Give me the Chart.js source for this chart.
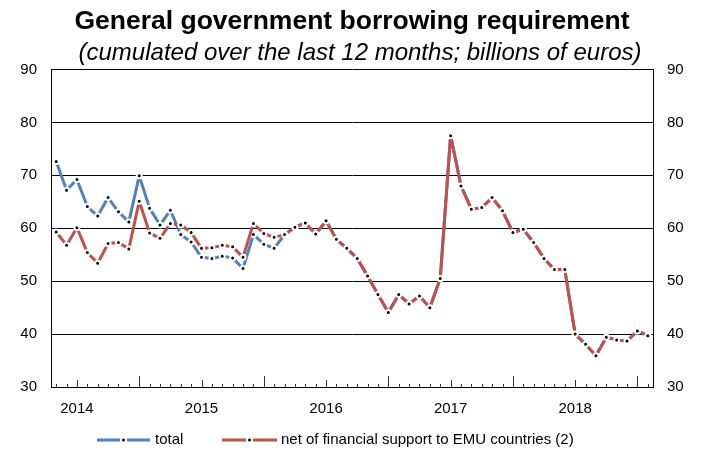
<!DOCTYPE html>
<html>
<head>
<meta charset="utf-8">
<script src="https://cdn.jsdelivr.net/npm/chart.js@4.4.1/dist/chart.umd.min.js"></script>
<style>
  html, body { margin: 0; padding: 0; background: #fff; }
  #wrap { width: 704px; height: 452px; }
</style>
</head>
<body>
<div id="wrap"><canvas id="chart" width="704" height="452"></canvas></div>
<script>
// monthly observations, April 2014 to January 2019
const months = [
  '2014-04','2014-05','2014-06','2014-07','2014-08','2014-09','2014-10','2014-11','2014-12',
  '2015-01','2015-02','2015-03','2015-04','2015-05','2015-06','2015-07','2015-08','2015-09','2015-10','2015-11','2015-12',
  '2016-01','2016-02','2016-03','2016-04','2016-05','2016-06','2016-07','2016-08','2016-09','2016-10','2016-11','2016-12',
  '2017-01','2017-02','2017-03','2017-04','2017-05','2017-06','2017-07','2017-08','2017-09','2017-10','2017-11','2017-12',
  '2018-01','2018-02','2018-03','2018-04','2018-05','2018-06','2018-07','2018-08','2018-09','2018-10','2018-11','2018-12',
  '2019-01'
];

const total = [
  72.6, 67.2, 69.2, 64.1, 62.3, 65.8, 63.1, 61.2, 69.9,
  63.8, 60.6, 63.4, 58.8, 57.4, 54.5, 54.3, 54.7, 54.4, 52.4, 58.8, 57.0,
  56.2, 58.8, 60.2, 61.0, 58.9, 61.4, 57.9, 56.2, 54.3, 51.0, 47.5, 44.1,
  47.5, 45.7, 47.2, 45.0, 50.5, 77.5, 68.0, 63.6, 63.9, 65.8, 63.3, 59.2,
  59.8, 57.3, 54.3, 52.2, 52.2, 40.0, 38.1, 35.9, 39.4, 38.9, 38.7, 40.6,
  39.7
];

const netOfSupport = [
  59.3, 56.8, 60.1, 55.4, 53.4, 57.1, 57.3, 56.1, 65.1,
  59.1, 58.1, 60.9, 60.6, 59.2, 56.2, 56.3, 56.8, 56.5, 54.5, 60.9, 59.0,
  58.3, 58.8, 60.2, 61.0, 58.9, 61.4, 57.9, 56.2, 54.3, 51.0, 47.5, 44.1,
  47.5, 45.7, 47.2, 45.0, 50.5, 77.5, 68.0, 63.6, 63.9, 65.8, 63.3, 59.2,
  59.8, 57.3, 54.3, 52.2, 52.2, 40.0, 38.1, 35.9, 39.4, 38.9, 38.7, 40.6,
  39.7
];

const seriesNames = ['total', 'net of financial support to EMU countries (2)'];
const seriesColors = ['#4F81BD', '#C0504D'];
const yTicks = [30, 40, 50, 60, 70, 80, 90];
const subtitleText = '(cumulated over the last 12 months; billions of euros)';

const FONT = "'Liberation Sans', Arial, sans-serif";
Chart.defaults.font.family = FONT;
Chart.defaults.color = '#000';

// subtitle, month ticks inside the plot, legend with line/dot samples
const decorPlugin = {
  id: 'decor',
  afterDraw(chart) {
    const ctx = chart.ctx;
    const xs = chart.scales.x;
    const area = chart.chartArea;
    ctx.save();

    ctx.font = 'italic 24px ' + FONT;
    ctx.fillStyle = '#000';
    ctx.textAlign = 'center';
    ctx.textBaseline = 'middle';
    ctx.fillText(subtitleText, 360, 53);

    ctx.strokeStyle = '#333';
    ctx.lineWidth = 1;
    months.forEach((m, i) => {
      const px = Math.round(xs.getPixelForValue(i)) + 0.5;
      const mm = m.slice(5);
      const len = mm === '12' ? 11 : (mm === '06' ? 7 : 3);
      ctx.beginPath();
      ctx.moveTo(px, area.bottom);
      ctx.lineTo(px, area.bottom - len);
      ctx.stroke();
    });

    // legend
    const legendY = 440;
    const items = [
      { x1: 97, x2: 150, tx: 155 },
      { x1: 222, x2: 277, tx: 281 }
    ];
    ctx.font = '15px ' + FONT;
    ctx.textAlign = 'left';
    items.forEach((it, i) => {
      ctx.strokeStyle = seriesColors[i];
      ctx.lineWidth = 3;
      ctx.beginPath();
      ctx.moveTo(it.x1, legendY);
      ctx.lineTo(it.x2, legendY);
      ctx.stroke();
      const cx = (it.x1 + it.x2) / 2;
      ctx.fillStyle = '#fff';
      ctx.beginPath(); ctx.arc(cx, legendY, 3.5, 0, Math.PI * 2); ctx.fill();
      ctx.fillStyle = '#000';
      ctx.beginPath(); ctx.arc(cx, legendY, 1.5, 0, Math.PI * 2); ctx.fill();
      ctx.fillText(seriesNames[i], it.tx, legendY);
    });
    ctx.restore();
  }
};

const yAxisBase = {
  min: 30,
  max: 90,
  afterBuildTicks: s => { s.ticks = yTicks.map(v => ({ value: v })); },
  afterFit: s => { s.width = 51; }
};

const pointStyle = {
  pointRadius: 2.5,
  pointHoverRadius: 2.5,
  pointBorderWidth: 2,
  pointBackgroundColor: '#000',
  pointBorderColor: '#fff'
};

new Chart(document.getElementById('chart'), {
  type: 'line',
  data: {
    labels: months,
    datasets: [
      Object.assign({
        label: seriesNames[0],
        data: total,
        borderColor: seriesColors[0],
        order: 2
      }, pointStyle),
      Object.assign({
        label: seriesNames[1],
        data: netOfSupport,
        borderColor: seriesColors[1],
        order: 1
      }, pointStyle)
    ]
  },
  options: {
    responsive: false,
    animation: false,
    devicePixelRatio: 1,
    layout: { padding: { left: 0, right: 0, top: 0, bottom: 0 } },
    elements: {
      line: { borderWidth: 3, tension: 0, borderJoinStyle: 'round' }
    },
    plugins: {
      legend: { display: false },
      tooltip: { enabled: false },
      title: {
        display: true,
        text: 'General government borrowing requirement',
        font: { size: 26.5, weight: 'bold' },
        color: '#000',
        padding: { top: 6, bottom: 31.7 }
      }
    },
    scales: {
      x: {
        offset: true,
        grid: { display: false, drawTicks: false },
        border: { display: true, color: '#000', width: 1 },
        ticks: {
          autoSkip: false,
          maxRotation: 0,
          padding: 13,
          font: { size: 15 },
          callback: (v, i) => months[i].endsWith('-06') ? months[i].slice(0, 4) : ''
        },
        afterFit: s => { s.height = 65; }
      },
      y: Object.assign({}, yAxisBase, {
        position: 'left',
        grid: { color: '#000', lineWidth: 1, drawTicks: false },
        border: { display: true, color: '#000', width: 1 },
        ticks: { padding: 14, font: { size: 15 } }
      }),
      y2: Object.assign({}, yAxisBase, {
        position: 'right',
        grid: { display: false, drawTicks: false },
        border: { display: true, color: '#000', width: 1 },
        ticks: { padding: 14, font: { size: 15 } }
      })
    }
  },
  plugins: [decorPlugin]
});
</script>
</body>
</html>
